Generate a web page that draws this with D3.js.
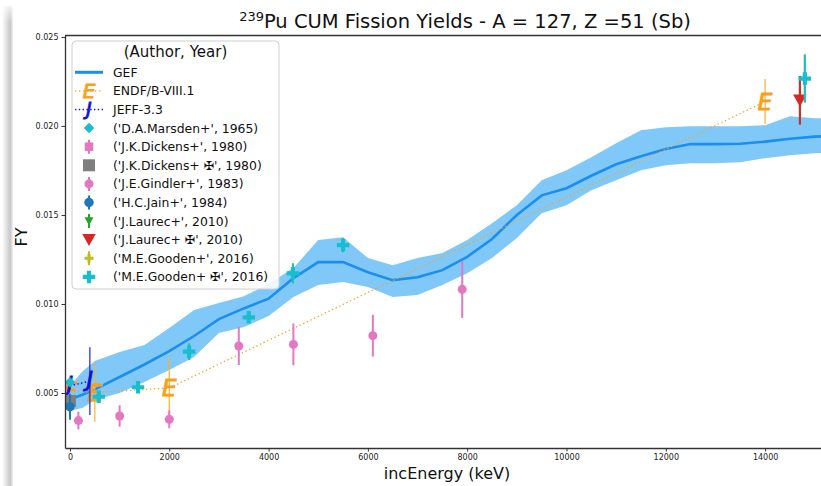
<!DOCTYPE html>
<html>
<head>
<meta charset="utf-8">
<script src="https://cdn.jsdelivr.net/npm/d3@7"></script>
<style>
  body { margin: 0; background: #fff; }
  svg { display: block; font-family: "DejaVu Sans", sans-serif; }
</style>
</head>
<body>
<svg id="chart" width="821" height="486"></svg>
<script>
// ---- GEF evaluation: central yield and uncertainty band (energies in keV) ----
const gefEnergy = [0, 250, 500, 1000, 1500, 2000, 2500, 3000, 3500, 4000, 4500, 5000, 5500, 6000,
  6500, 7000, 7500, 8000, 8500, 9000, 9500, 10000, 10500, 11000, 11500, 12000, 12500, 13000,
  13500, 14000, 14500, 15000, 15500];
const gefYield = [0.00465, 0.00490, 0.00520, 0.00590, 0.00660, 0.00735, 0.00820, 0.00915, 0.00975,
  0.01030, 0.01145, 0.01235, 0.01235, 0.01178, 0.01134, 0.01150, 0.01190, 0.01265, 0.01365,
  0.01500, 0.01610, 0.01650, 0.01720, 0.01785, 0.01830, 0.01870, 0.01898, 0.01898, 0.01900,
  0.01912, 0.01928, 0.01940, 0.01945];
const gefUpper = [0.00540, 0.00620, 0.00680, 0.00730, 0.00770, 0.00865, 0.00966, 0.01005, 0.01044,
  0.01112, 0.01202, 0.01359, 0.01375, 0.01258, 0.01218, 0.01258, 0.01286, 0.01359, 0.01454,
  0.01555, 0.01695, 0.01751, 0.01824, 0.01903, 0.01976, 0.01993, 0.01998, 0.01998, 0.01998,
  0.02004, 0.02055, 0.02043, 0.02043];
const gefLower = [0.00400, 0.00416, 0.00461, 0.00500, 0.00562, 0.00629, 0.00702, 0.00837, 0.00870,
  0.00932, 0.01039, 0.01106, 0.01123, 0.01095, 0.01039, 0.01050, 0.01106, 0.01173, 0.01258,
  0.01370, 0.01510, 0.01555, 0.01639, 0.01695, 0.01751, 0.01779, 0.01791, 0.01791, 0.01796,
  0.01819, 0.01836, 0.01847, 0.01850];

// ---- Evaluated libraries ----
const endfEnergy = [0, 500, 2000, 14000];
const endfYield = [0.00510, 0.00503, 0.00528, 0.02137];
const endfErr = [0.00030, 0.00165, 0.00170, 0.00126];

const jeffEnergy = [0, 400];
const jeffYield = [0.00540, 0.00567];
const jeffErr = [0.00020, 0.00190];

// ---- Measurements ----
const marsdenEnergy = [0];
const marsdenYield = [0.00560];
const marsdenErr = [0];

const dickensEnergy = [0];
const dickensYield = [0.00455];
const dickensErr = [0.00030];

const dickensCorrEnergy = [0];
const dickensCorrYield = [0.00455];
const dickensCorrErr = [0];

const gindlerEnergy = [170, 1000, 2000, 3400, 4500, 6100, 7900];
const gindlerYield = [0.00345, 0.00371, 0.00352, 0.00764, 0.00773, 0.00822, 0.01082];
const gindlerErr = [0.00050, 0.00060, 0.00050, 0.00107, 0.00117, 0.00117, 0.00160];

const jainEnergy = [0];
const jainYield = [0.00423];
const jainErr = [0.00073];

const laurecEnergy = [14700];
const laurecYield = [0.02144];
const laurecErr = [0.00136];

const laurecCorrEnergy = [14700];
const laurecCorrYield = [0.02144];
const laurecCorrErr = [0.00136];

const goodenEnergy = [580, 1370, 2400, 3600, 4490, 5500, 14800];
const goodenYield = [0.00479, 0.00532, 0.00732, 0.00925, 0.01172, 0.01331, 0.02266];
const goodenErr = [0.00030, 0.00030, 0.00047, 0.00030, 0.00056, 0.00040, 0.00135];

const goodenCorrEnergy = [580, 1370, 2400, 3600, 4490, 5500, 14800];
const goodenCorrYield = [0.00479, 0.00532, 0.00732, 0.00925, 0.01172, 0.01331, 0.02266];
const goodenCorrErr = [0.00030, 0.00030, 0.00047, 0.00030, 0.00056, 0.00040, 0.00135];

// ---- Axis ticks and labels ----
const xTicks = [0, 2000, 4000, 6000, 8000, 10000, 12000, 14000];
const yTicks = [0.005, 0.010, 0.015, 0.020, 0.025];
const legendTitle = "(Author, Year)";
const libLabels = ["GEF", "ENDF/B-VIII.1", "JEFF-3.3"];

// ---------------------------------------------------------------------------
const svg = d3.select("#chart");
const W = 821, H = 486;
const plot = { left: 65, right: 839.6, top: 35.5, bottom: 448 };

const x = d3.scaleLinear().domain([-100, 15500]).range([plot.left, plot.right]);
const y = d3.scaleLinear().domain([0.00191, 0.02508]).range([plot.bottom, plot.top]);

// soft page edge on the left
const defs = svg.append("defs");
const grad = defs.append("linearGradient").attr("id", "edge").attr("x1", 0).attr("x2", 1);
grad.append("stop").attr("offset", 0).attr("stop-color", "#000").attr("stop-opacity", 0.0);
grad.append("stop").attr("offset", 0.75).attr("stop-color", "#000").attr("stop-opacity", 0.22);
grad.append("stop").attr("offset", 1).attr("stop-color", "#000").attr("stop-opacity", 0.05);
const grad2 = defs.append("linearGradient").attr("id", "edgeTop").attr("x1", 0).attr("x2", 0).attr("y1", 0).attr("y2", 1);
grad2.append("stop").attr("offset", 0).attr("stop-color", "#fff").attr("stop-opacity", 1);
grad2.append("stop").attr("offset", 1).attr("stop-color", "#fff").attr("stop-opacity", 0);
svg.append("rect").attr("x", 2).attr("y", 6).attr("width", 11).attr("height", H - 6).attr("fill", "url(#edge)");
svg.append("rect").attr("x", 0).attr("y", 0).attr("width", 16).attr("height", 22).attr("fill", "url(#edgeTop)");

defs.append("clipPath").attr("id", "plotClip").append("rect")
  .attr("x", plot.left).attr("y", plot.top).attr("width", plot.right - plot.left).attr("height", plot.bottom - plot.top);

const g = svg.append("g").attr("clip-path", "url(#plotClip)");

// GEF band and line
const gefRows = gefEnergy.map((e, i) => ({ e, v: gefYield[i], hi: gefUpper[i], lo: gefLower[i] }));
g.append("path").datum(gefRows)
  .attr("d", d3.area().x(d => x(d.e)).y0(d => y(d.lo)).y1(d => y(d.hi)))
  .attr("fill", "#80c8f8");
g.append("path").datum(gefRows)
  .attr("d", d3.line().x(d => x(d.e)).y(d => y(d.v)))
  .attr("fill", "none").attr("stroke", "#1b8ef0").attr("stroke-width", 2.6);

// marker shapes, sized by overall width in px
function markerPath(kind, w) {
  if (kind === "circle") return d3.symbol(d3.symbolCircle, Math.PI * (w / 2) ** 2)();
  if (kind === "square") return d3.symbol(d3.symbolSquare, w * w)();
  if (kind === "diamond") return d3.symbol(d3.symbolSquare, w * w / 2)();
  if (kind === "plus") return d3.symbol(d3.symbolCross, 5 * (w / 3) ** 2)();
  if (kind === "tridown") {
    const p = d3.path(), s = w / 2;
    p.moveTo(-s, -s * 0.85); p.lineTo(s, -s * 0.85); p.lineTo(0, s * 0.95); p.closePath();
    return p.toString();
  }
}
function drawMarker(sel, kind, w, color) {
  return sel.append("path").attr("d", markerPath(kind, w))
    .attr("transform", kind === "diamond" ? "rotate(45)" : null)
    .attr("fill", color);
}

// evaluated library curves with letter markers
function drawLibrary(E, V, Er, style) {
  const rows = E.map((e, i) => ({ e, v: V[i], err: Er[i] }));
  g.append("path").datum(rows)
    .attr("d", d3.line().x(d => x(d.e)).y(d => y(d.v)))
    .attr("fill", "none").attr("stroke", style.line).attr("stroke-width", style.lw)
    .attr("stroke-dasharray", style.dash);
  g.selectAll(null).data(rows).enter().append("line")
    .attr("x1", d => x(d.e)).attr("x2", d => x(d.e))
    .attr("y1", d => y(d.v - d.err)).attr("y2", d => y(d.v + d.err))
    .attr("stroke", style.bar).attr("stroke-width", style.barW).attr("stroke-opacity", style.barOp);
  g.selectAll(null).data(rows).enter().append("text")
    .attr("x", d => x(d.e)).attr("y", d => y(d.v))
    .attr("dy", style.dy).attr("text-anchor", "middle")
    .attr("font-size", style.size).attr("font-style", "italic")
    .attr("fill", style.color).attr("stroke", style.color).attr("stroke-width", 0.9)
    .text(style.glyph);
}
const endfStyle = { line: "#f5a623", lw: 1.3, dash: "1.4,2.6", bar: "#f5b030", barW: 1.4, barOp: 0.85,
  color: "#f7a01a", size: 23, dy: "0.36em", glyph: "E" };
const jeffStyle = { line: "#1515d0", lw: 1.5, dash: "1.4,2.4", bar: "#3c3cc8", barW: 1.5, barOp: 0.9,
  color: "#1010d8", size: 21, dy: "0.30em", glyph: "J" };
drawLibrary(endfEnergy, endfYield, endfErr, endfStyle);
drawLibrary(jeffEnergy, jeffYield, jeffErr, jeffStyle);

// measurement series
const series = [
  { label: "('D.A.Marsden+', 1965)", E: marsdenEnergy, V: marsdenYield, Er: marsdenErr, kind: "diamond", w: 10.5, color: "#1cbccf", legendBar: 0 },
  { label: "('J.K.Dickens+', 1980)", E: dickensEnergy, V: dickensYield, Er: dickensErr, kind: "square", w: 8.5, color: "#e377c2", legendBar: 7 },
  { label: "('J.K.Dickens+ \u2720', 1980)", E: dickensCorrEnergy, V: dickensCorrYield, Er: dickensCorrErr, kind: "square", w: 12, color: "#7f7f7f", legendBar: 0 },
  { label: "('J.E.Gindler+', 1983)", E: gindlerEnergy, V: gindlerYield, Er: gindlerErr, kind: "circle", w: 9, color: "#e377c2", legendBar: 7 },
  { label: "('H.C.Jain+', 1984)", E: jainEnergy, V: jainYield, Er: jainErr, kind: "circle", w: 9.5, color: "#1f77b4", legendBar: 7 },
  { label: "('J.Laurec+', 2010)", E: laurecEnergy, V: laurecYield, Er: laurecErr, kind: "tridown", w: 9, color: "#2ca02c", legendBar: 7 },
  { label: "('J.Laurec+ \u2720', 2010)", E: laurecCorrEnergy, V: laurecCorrYield, Er: laurecCorrErr, kind: "tridown", w: 13.5, color: "#d62728", legendBar: 0 },
  { label: "('M.E.Gooden+', 2016)", E: goodenEnergy, V: goodenYield, Er: goodenErr, kind: "plus", w: 9, color: "#bcbd22", legendBar: 7 },
  { label: "('M.E.Gooden+ \u2720', 2016)", E: goodenCorrEnergy, V: goodenCorrYield, Er: goodenCorrErr, kind: "plus", w: 12.5, color: "#17becf", legendBar: 0 }
];

series.forEach(s => {
  const rows = s.E.map((e, i) => ({ e, v: s.V[i], err: s.Er[i] }));
  const grp = g.append("g");
  grp.selectAll(null).data(rows.filter(d => d.err > 0)).enter().append("line")
    .attr("x1", d => x(d.e)).attr("x2", d => x(d.e))
    .attr("y1", d => y(d.v - d.err)).attr("y2", d => y(d.v + d.err))
    .attr("stroke", s.color).attr("stroke-width", 2);
  grp.selectAll(null).data(rows).enter().append("g")
    .attr("transform", d => `translate(${x(d.e)},${y(d.v)})`)
    .each(function () { drawMarker(d3.select(this), s.kind, s.w, s.color); });
});

// axes
const axisColor = "#333";
const xAxis = svg.append("g").attr("transform", `translate(0,${plot.bottom})`)
  .call(d3.axisBottom(x).tickValues(xTicks).tickFormat(d3.format("d")).tickSize(3.5).tickSizeOuter(0).tickPadding(2.5));
const yAxis = svg.append("g").attr("transform", `translate(${plot.left},0)`)
  .call(d3.axisLeft(y).tickValues(yTicks).tickFormat(d3.format(".3f")).tickSize(3.5).tickSizeOuter(0).tickPadding(3));
[xAxis, yAxis].forEach(a => {
  a.select(".domain").attr("stroke", axisColor).attr("stroke-width", 1.3);
  a.selectAll(".tick line").attr("stroke", axisColor).attr("stroke-width", 1);
  a.selectAll(".tick text").attr("font-family", "DejaVu Sans").attr("font-size", 8).attr("fill", "#222");
});
svg.append("line").attr("x1", plot.left).attr("x2", W).attr("y1", plot.top).attr("y2", plot.top)
  .attr("stroke", axisColor).attr("stroke-width", 1.3);

// titles
const title = svg.append("text").attr("x", 465).attr("y", 28).attr("text-anchor", "middle")
  .attr("font-size", 19.5).attr("fill", "#111");
title.append("tspan").attr("font-size", 13).attr("dy", -7).text("239");
title.append("tspan").attr("dy", 7).text("Pu CUM Fission Yields - A = 127, Z =51 (Sb)");

svg.append("text").attr("x", 447).attr("y", 479).attr("text-anchor", "middle")
  .attr("font-size", 16).attr("fill", "#111").text("incEnergy (keV)");
svg.append("text").attr("transform", "translate(27,237) rotate(-90)").attr("text-anchor", "middle")
  .attr("font-size", 16).attr("fill", "#111").text("FY");

// legend
const lg = svg.append("g");
lg.append("rect").attr("x", 72).attr("y", 41).attr("width", 207).attr("height", 248).attr("rx", 4)
  .attr("fill", "#fff").attr("fill-opacity", 0.85).attr("stroke", "#cfcfcf").attr("stroke-width", 1);
lg.append("text").attr("x", 175.5).attr("y", 57).attr("text-anchor", "middle")
  .attr("font-size", 15).attr("fill", "#111").text(legendTitle);

const rowY = i => 72.3 + i * 18.6;
const hx0 = 75, hx1 = 103, hxc = 89, tx = 113;
const labels = libLabels.concat(series.map(s => s.label));
labels.forEach((lab, i) => {
  lg.append("text").attr("x", tx).attr("y", rowY(i) + 4.5).attr("font-size", 12.4).attr("fill", "#111").text(lab);
});
// GEF handle
lg.append("line").attr("x1", hx0).attr("x2", hx1).attr("y1", rowY(0)).attr("y2", rowY(0))
  .attr("stroke", "#1b8ef0").attr("stroke-width", 3);
// library handles
[[endfStyle, 1], [jeffStyle, 2]].forEach(([st, i]) => {
  lg.append("line").attr("x1", hx0).attr("x2", hx1).attr("y1", rowY(i)).attr("y2", rowY(i))
    .attr("stroke", st.line).attr("stroke-width", st.lw).attr("stroke-dasharray", st.dash);
  lg.append("text").attr("x", hxc).attr("y", rowY(i)).attr("dy", st.dy).attr("text-anchor", "middle")
    .attr("font-size", st.size - 3).attr("font-style", "italic")
    .attr("fill", st.color).attr("stroke", st.color).attr("stroke-width", 0.9).text(st.glyph);
});
// measurement handles
series.forEach((s, k) => {
  const cy = rowY(k + 3);
  if (s.legendBar > 0) {
    lg.append("line").attr("x1", hxc).attr("x2", hxc).attr("y1", cy - s.legendBar).attr("y2", cy + s.legendBar)
      .attr("stroke", s.color).attr("stroke-width", 2);
  }
  const m = lg.append("g").attr("transform", `translate(${hxc},${cy})`);
  drawMarker(m, s.kind, s.w, s.color);
});
</script>
</body>
</html>
